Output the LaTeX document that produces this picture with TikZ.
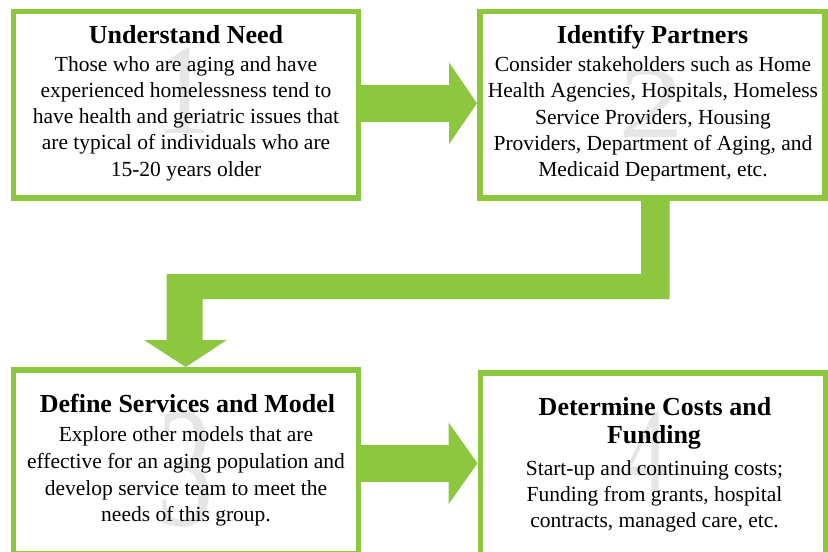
\documentclass[tikz,border=0pt]{standalone}
\usepackage{fontspec}
\setmainfont{Liberation Serif}
\usetikzlibrary{arrows.meta}
\definecolor{leaf}{HTML}{8DC63F}
\definecolor{numgray}{HTML}{E6E6E6}
\begin{document}
\begin{tikzpicture}[x=1pt,y=-1pt,
  stepbox/.style={rectangle, draw=leaf, line width=5.5pt, fill=white, inner sep=0pt,
    outer sep=2.75pt, minimum width=345pt, minimum height=186.5pt},
  ttl/.style={font=\fontsize{26}{30}\selectfont\bfseries, inner sep=0pt, outer sep=0pt, anchor=base},
  body/.style={font=\fontsize{21.5}{26.3}\selectfont, align=center, inner sep=0pt, outer sep=0pt, anchor=north},
  numtxt/.style={text=numgray, inner sep=0pt, outer sep=0pt, anchor=south},
  bigarrow/.style={draw=leaf, line width=36.7pt}
]
\useasboundingbox (0,0) rectangle (828,552);
\clip (0,0) rectangle (828,552);
\fill[white] (0,0) rectangle (828,552);

% boxes
\node[stepbox] (b1) at (185.75,104.5) {};
\node[stepbox] (b2) at (652.25,104.5) {};
\node[stepbox, minimum height=183.5pt] (b3) at (185.75,461.5) {};
\node[stepbox] (b4) at (652.75,466) {};

% connectors
\draw[bigarrow, -{Triangle[width=80.6pt,length=28pt]}] ([yshift=1.2pt]b1.east) -- ([yshift=1.2pt]b2.west);
\draw[bigarrow, -{Triangle[width=80.6pt,length=29pt]}] ([yshift=-1.8pt]b3.east) -- ([yshift=2.7pt]b4.west);
\fill[leaf] ([xshift=-11.25pt]b2.south) -- ([xshift=17.45pt]b2.south) -- (669.7,299) -- (202.7,299)
  -- (202.7,340) -- (226.7,340) -- (b3.north) -- (144,340) -- (166.7,340) -- (166.7,274)
  -- (641,274) -- cycle;

% watermark numbers
\node[numtxt] (n1) at (183.5,133) {\resizebox{56pt}{85pt}{1}};
\node[numtxt] (n2) at (651.5,137) {\resizebox{66pt}{67pt}{2}};
\node[numtxt] (n3) at (185,527) {\resizebox{56pt}{114pt}{3}};
\node[numtxt] (n4) at (647,493) {\resizebox{42.5pt}{81pt}{4}};

% texts
\node[ttl] (t1) at (186,43) {Understand Need};
\node[body] (d1) at (186,51) {\rule{0pt}{20pt}Those who are aging and have\\experienced homelessness tend to\\have health and geriatric issues that\\are typical of individuals who are\\15-20 years older};

\node[ttl] (t2) at (652.5,43) {Identify Partners};
\node[body] (d2) at (653,51.5) {\rule{0pt}{20pt}Consider stakeholders such as Home\\Health Agencies, Hospitals, Homeless\\Service Providers, Housing\\Providers, Department of Aging, and\\Medicaid Department, etc.};

\node[ttl] (t3) at (187.5,412.7) {Define Services and Model};
\node[body, font=\fontsize{21.5}{26.7}\selectfont] (d3) at (186,421.7) {\rule{0pt}{20pt}Explore other models that are\\effective for an aging population and\\develop service team to meet the\\needs of this group.};

\node[ttl] (t4a) at (655,415) {Determine Costs and};
\node[ttl] (t4b) at (654,443.3) {Funding};
\node[body] (d4) at (654.5,455) {\rule{0pt}{20pt}Start-up and continuing costs;\\Funding from grants, hospital\\contracts, managed care, etc.};
\end{tikzpicture}
\end{document}
